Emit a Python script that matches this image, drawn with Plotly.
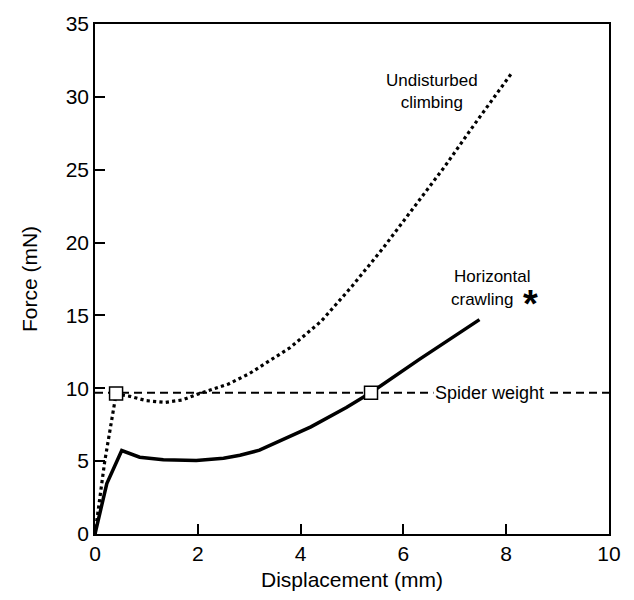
import plotly.graph_objects as go

# Undisturbed climbing (dotted)
climb_x = [0, 0.19, 0.41, 0.68, 1.0, 1.36, 1.7, 2.0, 2.6, 3.0, 3.4, 3.8, 4.4, 5.0, 5.6, 6.2, 6.8, 7.4, 8.1]
climb_y = [0, 5.0, 9.6, 9.45, 9.15, 9.03, 9.2, 9.6, 10.3, 11.0, 11.9, 12.8, 14.6, 17.0, 19.6, 22.4, 25.2, 28.2, 31.6]

# Horizontal crawling (solid)
crawl_x = [0, 0.23, 0.52, 0.87, 1.33, 1.97, 2.5, 2.82, 3.2, 3.55, 4.2, 4.89, 5.37, 6.31, 7.48]
crawl_y = [0, 3.46, 5.73, 5.27, 5.1, 5.05, 5.2, 5.4, 5.75, 6.3, 7.35, 8.68, 9.71, 11.98, 14.71]

# Spider weight line
weight_x = [0, 10]
weight_y = [9.7, 9.7]

# Crossing markers
mark_x = [0.41, 5.37]
mark_y = [9.65, 9.7]

x_ticks = [0, 2, 4, 6, 8, 10]
y_ticks = [0, 5, 10, 15, 20, 25, 30, 35]

FONT = "Liberation Sans, Arial, sans-serif"

fig = go.Figure()
fig.add_trace(go.Scatter(x=weight_x, y=weight_y, mode="lines",
                         line=dict(color="black", width=2, dash="8px,5px"), showlegend=False))
fig.add_trace(go.Scatter(x=climb_x, y=climb_y, mode="lines",
                         line=dict(color="black", width=3.2, dash="dot"), showlegend=False))
fig.add_trace(go.Scatter(x=crawl_x, y=crawl_y, mode="lines",
                         line=dict(color="black", width=3.5), showlegend=False))
fig.add_trace(go.Scatter(x=mark_x, y=mark_y, mode="markers",
                         marker=dict(symbol="square", size=13, color="white",
                                     line=dict(color="black", width=1.5)), showlegend=False))

fig.add_annotation(x=7.68, y=9.7, text="Spider weight", showarrow=False,
                   font=dict(family=FONT, size=18, color="black"), bgcolor="white", borderpad=1)
fig.add_annotation(x=6.56, y=30.4, text="Undisturbed<br>climbing", showarrow=False,
                   font=dict(family=FONT, size=17, color="black"), align="center")
fig.add_annotation(x=7.73, y=17.7, text="Horizontal", showarrow=False,
                   font=dict(family=FONT, size=17, color="black"))
fig.add_annotation(x=7.53, y=16.1, text="crawling", showarrow=False,
                   font=dict(family=FONT, size=17, color="black"))
fig.add_annotation(x=8.47, y=15.8, text="<b>*</b>", showarrow=False,
                   font=dict(family=FONT, size=38, color="black"))

fig.update_layout(
    width=634, height=600,
    margin=dict(l=95, r=25, t=21, b=66),
    plot_bgcolor="white", paper_bgcolor="white",
    font=dict(family=FONT, size=21, color="black"),
)
fig.update_xaxes(range=[0, 10], tickvals=x_ticks, ticks="inside", ticklen=10, tickwidth=1.5,
                 tickcolor="black", showline=True, linewidth=1.5, linecolor="black", mirror=True,
                 showgrid=False, zeroline=False,
                 title=dict(text="Displacement (mm)", font=dict(size=21), standoff=8),
                 tickfont=dict(size=21))
fig.update_yaxes(range=[0, 35], tickvals=y_ticks, ticks="inside", ticklen=10, tickwidth=1.5,
                 tickcolor="black", showline=True, linewidth=1.5, linecolor="black", mirror=True,
                 showgrid=False, zeroline=False,
                 title=dict(text="Force (mN)", font=dict(size=21), standoff=22),
                 tickfont=dict(size=21))

fig.write_html("out.html")
